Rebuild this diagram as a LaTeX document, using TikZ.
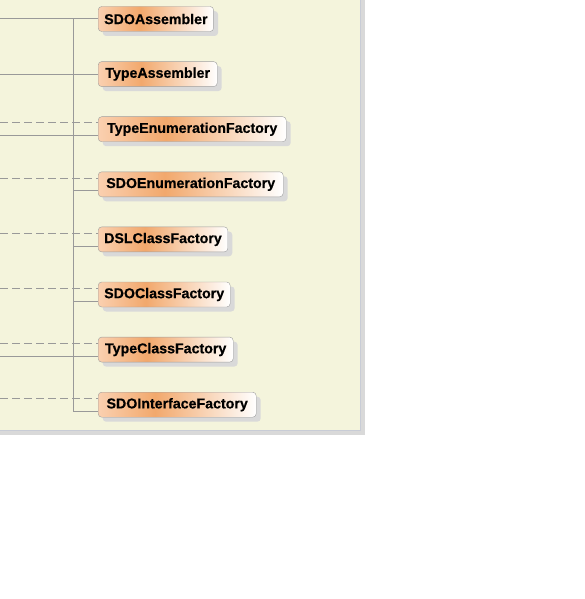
\documentclass[tikz,border=0pt]{standalone}
\usepackage{fontspec}
\setmainfont{Liberation Sans}[BoldFeatures={FakeBold=0.5}]
\usetikzlibrary{shadows}
\definecolor{panel}{HTML}{F4F4DC}
\definecolor{panelshadow}{HTML}{D9D9D9}
\definecolor{panelrim}{HTML}{C8CCD6}
\definecolor{boxl}{HTML}{FAD0B0}
\definecolor{boxm}{HTML}{F2A86C}
\definecolor{wiregray}{HTML}{999999}
\pgfdeclarehorizontalshading{clsshade}{100bp}{color(0bp)=(boxl); color(25bp)=(boxl); color(43bp)=(boxm); color(75bp)=(white); color(100bp)=(white)}
\begin{document}
\begin{tikzpicture}[x=1pt,y=-1pt,
  cls/.style={draw=black!38, rounded corners=3.5pt, shading=clsshade, anchor=west, minimum height=25pt, inner xsep=6pt, inner ysep=0pt, font=\bfseries\fontsize{14.2}{16}\selectfont, general shadow={fill=black!15, shadow xshift=4.5pt, shadow yshift=-4.5pt}},
  wire/.style={draw=wiregray, line width=1pt},
  dep/.style={draw=wiregray, line width=1pt, dash pattern=on 8pt off 4pt}]
\useasboundingbox (0,0) rectangle (585,599);
\fill[panelshadow] (0,0) rectangle (365,435);
\fill[panel] (0,0) rectangle (360,430);
\draw[panelrim] (360,0) -- (360,430) -- (0,430);
\node[cls, minimum width=115pt] (sdoasm) at (98,19) {SDOAssembler};
\node[cls, minimum width=119pt] (typeasm) at (98,74.1) {TypeAssembler};
\node[cls, minimum width=188pt] (typeenum) at (98,129.2) {TypeEnumerationFactory};
\node[cls, minimum width=185pt] (sdoenum) at (98,184.3) {SDOEnumerationFactory};
\node[cls, minimum width=129pt] (dslclass) at (98,239.4) {DSLClassFactory};
\node[cls, minimum width=132pt] (sdoclass) at (98,294.5) {SDOClassFactory};
\node[cls, minimum width=135pt] (typeclass) at (98,349.6) {TypeClassFactory};
\node[cls, minimum width=158pt] (sdoiface) at (98,404.7) {SDOInterfaceFactory};
\coordinate (trunktop) at (73,19);
\coordinate (trunkbot) at (73,411);
\coordinate (in0) at (0,19);
\coordinate (in1) at (0,74.1);
\coordinate (in2) at (0,135.3);
\coordinate (in5) at (0,356);
\coordinate (dep2) at (0,122.7);
\coordinate (dep3) at (0,178.3);
\coordinate (dep4) at (0,233.3);
\coordinate (dep5) at (0,288.3);
\coordinate (dep6) at (0,343.3);
\coordinate (dep7) at (0,398.3);
\coordinate (tap3) at (73,190);
\coordinate (tap4) at (73,246);
\coordinate (tap5) at (73,301);
\draw[wire] (trunktop) -- (trunkbot);
\draw[wire] (in0) -- (sdoasm);
\draw[wire] (in1) -- (typeasm);
\draw[wire] (in2) -- (in2 -| typeenum.west);
\draw[dep] (dep2) -- (dep2 -| typeenum.west);
\draw[dep] (dep3) -- (dep3 -| sdoenum.west);
\draw[wire] (tap3) -- (tap3 -| sdoenum.west);
\draw[dep] (dep4) -- (dep4 -| dslclass.west);
\draw[wire] (tap4) -- (tap4 -| dslclass.west);
\draw[dep] (dep5) -- (dep5 -| sdoclass.west);
\draw[wire] (tap5) -- (tap5 -| sdoclass.west);
\draw[dep] (dep6) -- (dep6 -| typeclass.west);
\draw[wire] (in5) -- (in5 -| typeclass.west);
\draw[dep] (dep7) -- (dep7 -| sdoiface.west);
\draw[wire] (trunkbot) -- (trunkbot -| sdoiface.west);
\end{tikzpicture}
\end{document}
